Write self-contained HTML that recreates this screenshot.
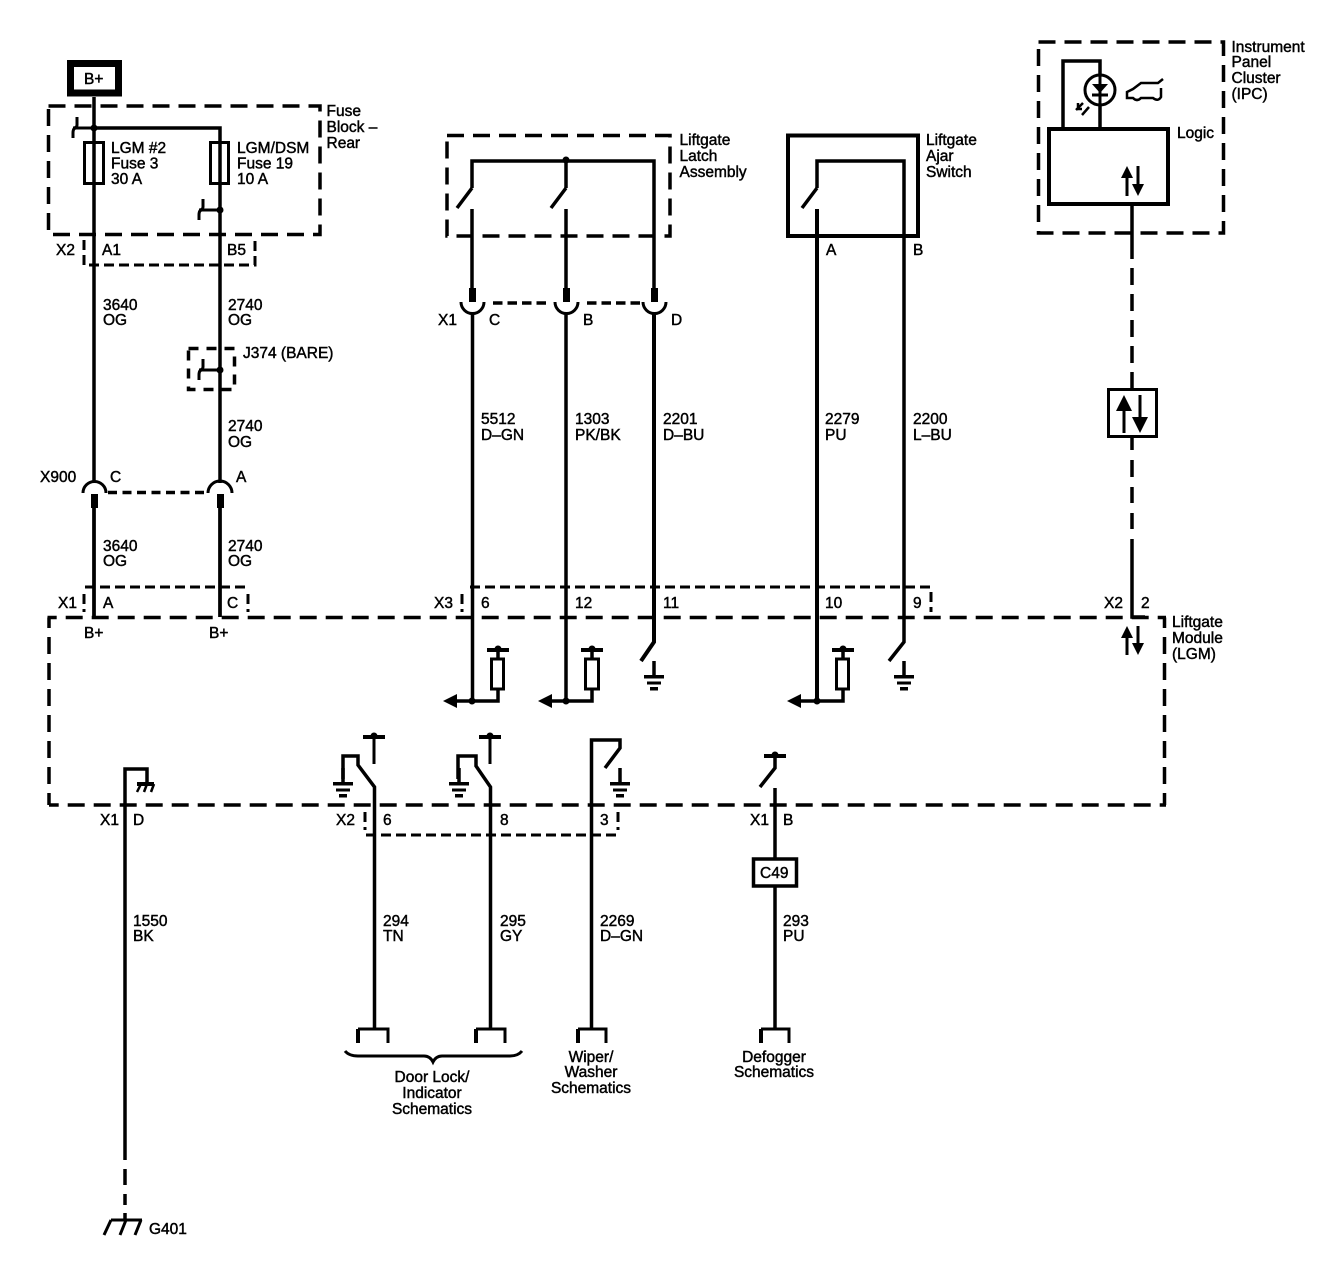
<!DOCTYPE html>
<html><head><meta charset="utf-8"><style>
html,body{margin:0;padding:0;background:#fff}
svg{display:block}
text{font-family:"Liberation Sans",sans-serif;font-size:15.5px;fill:#000;stroke:#000;stroke-width:.45}
.w{fill:none;stroke:#000;stroke-width:3.5}
.t{fill:none;stroke:#000;stroke-width:3}
.b{fill:none;stroke:#000;stroke-width:4}
.d{fill:none;stroke:#000;stroke-width:3.5;stroke-dasharray:17 9}
.c{fill:none;stroke:#000;stroke-width:3;stroke-dasharray:10 5}
.s{fill:#000;stroke:none}
.m{text-anchor:middle}
</style></head><body>
<svg width="1342" height="1280" viewBox="0 0 1342 1280" xmlns="http://www.w3.org/2000/svg">
<defs>
<g id="gnd"><path class="w" d="M0,-19V-4"/><path class="s" d="M-10,-5H10V-1.500H-10ZM-7,1.500H7V4.500H-7ZM-4,7H4V10.500H-4Z"/></g>
<g id="pull"><path class="b" d="M-11,0H11"/><circle class="s" cx="0" cy="-1" r="3.5"/></g>
</defs>

<!-- B+ -->
<rect x="70.500" y="63.500" width="48" height="29.500" fill="none" stroke="#000" stroke-width="7"/>
<text x="84" y="84">B+</text>

<!-- Fuse block -->
<rect class="d" x="48.5" y="106" width="271.5" height="128.5"/>
<path class="w" d="M94,97V617M94,128H220V617"/>
<circle class="s" cx="94" cy="128" r="3.5"/><circle class="s" cx="220" cy="210" r="3.5"/>
<path class="t" d="M94,128H76Q73,128 73,133V138M77,117V125Q77,128 73,128"/>
<path class="t" d="M220,210H202Q199,210 199,215V220M203,199V207Q203,210 199,210"/>
<rect class="t" x="84.5" y="142.5" width="19" height="41"/>
<rect class="t" x="210.5" y="142.5" width="18" height="41"/>
<text x="111" y="153">LGM #2</text><text x="111" y="168.500">Fuse 3</text><text x="111" y="184">30 A</text>
<text x="237" y="153">LGM/DSM</text><text x="237" y="168.500">Fuse 19</text><text x="237" y="184">10 A</text>
<text x="326.500" y="116">Fuse</text><text x="326.500" y="132">Block –</text><text x="326.500" y="148">Rear</text>

<!-- X2 top connector -->
<path class="c" d="M84,240V265H255V240"/>
<text x="56" y="255">X2</text><text x="102" y="255">A1</text><text x="227" y="255">B5</text>
<text x="103" y="310">3640</text><text x="103" y="325">OG</text>
<text x="228" y="310">2740</text><text x="228" y="325">OG</text>

<!-- J374 -->
<rect fill="none" stroke="#000" stroke-width="3.5" stroke-dasharray="10 8" x="188.500" y="348.500" width="46" height="41"/>
<circle class="s" cx="220" cy="370" r="3.5"/>
<path class="t" d="M220,370H202Q199,370 199,375V380M203,359V367Q203,370 199,370"/>
<text x="243" y="358">J374 (BARE)</text>
<text x="228" y="431">2740</text><text x="228" y="447">OG</text>

<!-- X900 -->
<rect x="88" y="470" width="12" height="38" fill="#fff"/><rect x="214" y="470" width="12" height="38" fill="#fff"/>
<path class="w" d="M94,470V483M220,470V483M94,508V617M220,508V617"/>
<path class="t" d="M83,493A11.500,11.500 0 0 1 106,493M208,493A11.500,11.500 0 0 1 232,493"/>
<rect class="s" x="91" y="494" width="7" height="14"/><rect class="s" x="217" y="494" width="7" height="14"/>
<path class="d" d="M108,492.500H207" style="stroke-dasharray:9 5.500"/>
<text x="40" y="482">X900</text><text x="110" y="482">C</text><text x="236" y="482">A</text>
<text x="103" y="551">3640</text><text x="103" y="566">OG</text>
<text x="228" y="551">2740</text><text x="228" y="566">OG</text>

<!-- X1 -->
<path class="c" d="M85,587H248M84,594V612M248,594V612"/>
<text x="58" y="608">X1</text><text x="103" y="608">A</text><text x="227" y="608">C</text>
<text x="84" y="638">B+</text><text x="209" y="638">B+</text>

<!-- LGM box -->
<path class="d" d="M47.500,617.500H1166" style="stroke-dashoffset:7.800"/>
<path class="d" d="M49,617.500V805" style="stroke-dashoffset:6.500"/>
<path class="d" d="M1164.500,617.500V805" style="stroke-dashoffset:6.500"/>
<path class="d" d="M49,805H1166" style="stroke-dashoffset:7.300"/>
<text x="1172" y="627">Liftgate</text><text x="1172" y="643">Module</text><text x="1172" y="659">(LGM)</text>

<!-- Latch -->
<rect class="d" x="447" y="135.500" width="223" height="100.500"/>
<path class="w" d="M472,188V161H654V302"/>
<path class="w" d="M566,161V188M472,209V288M566,209V288"/>
<path class="w" d="M472,188L457,208M566,188L551,208"/>
<circle class="s" cx="566" cy="160" r="3.500"/>
<rect class="s" x="469" y="288" width="7" height="14"/><rect class="s" x="563" y="288" width="7" height="14"/><rect class="s" x="651" y="288" width="7" height="14"/>
<path class="t" d="M461,302A11.500,11.500 0 0 0 484,302M555,302A11.500,11.500 0 0 0 578,302M643,302A11.500,11.500 0 0 0 666,302"/>
<path class="d" d="M493,303H548" style="stroke-dasharray:9.500 5"/>
<path class="d" d="M587,303H644" style="stroke-dasharray:9.500 5"/>
<path class="w" d="M472.500,313V700"/><path class="w" d="M566,313V700"/><path class="b" d="M654,313V642L641,661"/>
<text x="438" y="325">X1</text><text x="489" y="325">C</text><text x="583" y="325">B</text><text x="671" y="325">D</text>
<text x="679.500" y="145">Liftgate</text><text x="679.500" y="161">Latch</text><text x="679.500" y="177">Assembly</text>

<!-- Ajar -->
<rect fill="none" stroke="#000" stroke-width="4" x="788" y="135.500" width="130" height="100.500"/>
<path class="w" d="M817,188V161H904V642L889,661"/>
<path class="w" d="M817,188L802,208"/>
<path class="b" d="M817,209V700"/>
<text x="926" y="145">Liftgate</text><text x="926" y="161">Ajar</text><text x="926" y="177">Switch</text>
<text x="826" y="255">A</text><text x="913" y="255">B</text>

<!-- wire labels -->
<text x="481" y="424">5512</text><text x="481" y="440">D–GN</text>
<text x="575" y="424">1303</text><text x="575" y="440">PK/BK</text>
<text x="663" y="424">2201</text><text x="663" y="440">D–BU</text>
<text x="825" y="424">2279</text><text x="825" y="440">PU</text>
<text x="913" y="424">2200</text><text x="913" y="440">L–BU</text>

<!-- X3 -->
<path class="c" d="M470,587H932M462,594V612M931,592V612"/>
<text x="434" y="608">X3</text><text x="481" y="608">6</text><text x="575" y="608">12</text><text x="663" y="608">11</text><text x="825" y="608">10</text><text x="913" y="608">9</text>

<!-- pull-ups -->
<path class="w" d="M457,701H498V689M498,658V650"/><rect class="t" x="491.500" y="659" width="12" height="30"/>
<use href="#pull" x="498" y="650"/><path class="s" d="M443,701L457,694V708Z"/><circle class="s" cx="472" cy="701" r="3.500"/>
<path class="w" d="M551,701H592V689M592,658V650"/><rect class="t" x="585.500" y="659" width="13" height="30"/>
<use href="#pull" x="592" y="650"/><path class="s" d="M538,701L552,694V708Z"/><circle class="s" cx="566" cy="701" r="3.500"/>
<path class="w" d="M800,701H843V689M843,658V650"/><rect class="t" x="836.500" y="659" width="12" height="30"/>
<use href="#pull" x="843" y="650"/><path class="s" d="M787,701L801,694V708Z"/><circle class="s" cx="817" cy="701" r="3.500"/>
<use href="#gnd" x="654" y="680"/><use href="#gnd" x="904" y="680"/>

<!-- IPC -->
<rect class="d" x="1038.500" y="42" width="185" height="191"/>
<rect class="b" x="1049" y="129" width="119" height="75"/>
<path class="w" d="M1063,129V61H1100V129"/>
<circle cx="1100" cy="90" r="15" fill="#fff" stroke="#000" stroke-width="3"/>
<path class="t" d="M1100,75V105M1092,95H1108"/><path class="s" d="M1092,84H1108L1100,93Z"/>
<path fill="none" stroke="#000" stroke-width="2.500" d="M1076,110L1083,103M1082,115L1089,107M1078,103V109H1082"/>
<path fill="none" stroke="#000" stroke-width="2.500" d="M1163,79L1158,83H1141L1133,89L1127,92V98H1133Q1137,102 1141,98H1153Q1158,102 1161,97V88"/>
<text x="1177" y="138">Logic</text>
<text x="1231.500" y="52">Instrument</text><text x="1231.500" y="67">Panel</text><text x="1231.500" y="83">Cluster</text><text x="1231.500" y="99">(IPC)</text>
<path class="t" d="M1127,172V196M1138,166V190"/><path class="s" d="M1127,166L1121,178H1133ZM1138,196L1132,184H1144Z"/>

<!-- data line -->
<path class="w" d="M1132,204V242"/>
<path class="d" d="M1132,242V388"/>
<path class="w" d="M1132,438V450M1132,460V477M1132,487V503M1132,513V529"/>
<path class="w" d="M1132,539V617H1145"/>
<rect class="t" x="1108.500" y="389.500" width="48" height="47"/>
<path class="t" d="M1124,405V433M1140,395V420"/><path class="s" d="M1124,395L1116,411H1132ZM1140,433L1132,417H1148Z"/>
<path class="t" d="M1127,632V655M1138,626V650"/><path class="s" d="M1127,626L1121,638H1133ZM1138,655L1132,643H1144Z"/>
<text x="1104" y="608">X2</text><text x="1141" y="608">2</text>

<!-- G401 wire -->
<path class="w" d="M125,1160V769H147V782"/>
<path class="w" d="M125,1169V1185M125,1194V1205M125,1213V1219"/>
<path class="b" d="M137,784H154"/><path fill="none" stroke="#000" stroke-width="2.500" d="M141,784L137,792M147,784L144,792M154,784L151,792"/>
<path class="t" d="M111,1220H142M111,1220L104,1235M126,1220L120,1235M141,1220L135,1235"/>
<text x="100" y="825">X1</text><text x="133" y="825">D</text>
<text x="133" y="926">1550</text><text x="133" y="941">BK</text>
<text x="149" y="1234">G401</text>

<!-- X2 lower switches -->
<path class="w" d="M374.500,1028V787L358,765V756H343V779"/>
<use href="#pull" x="374" y="737"/><path class="t" d="M374,737V764"/>
<use href="#gnd" x="343" y="787"/>
<path class="w" d="M490.500,1028V787L476,766V756H458V779"/>
<use href="#pull" x="490" y="737"/><path class="t" d="M490,737V764"/>
<use href="#gnd" x="459" y="787"/>
<path class="w" d="M591.500,1028V740H620V748L605,768"/>
<use href="#gnd" x="620" y="787"/>
<use href="#pull" x="775" y="756"/><path class="w" d="M775,756V768L760,787"/>
<path class="w" d="M775,788V1028"/>
<rect fill="#fff" stroke="#000" stroke-width="3.500" x="753.500" y="859" width="43" height="27"/>
<text x="760" y="878">C49</text>
<path class="c" d="M366,835H617M365,812V830M618,812V830"/>
<text x="336" y="825">X2</text><text x="383" y="825">6</text><text x="500" y="825">8</text><text x="600" y="825">3</text>
<text x="750" y="825">X1</text><text x="783" y="825">B</text>
<text x="383" y="926">294</text><text x="383" y="941">TN</text>
<text x="500" y="926">295</text><text x="500" y="941">GY</text>
<text x="600" y="926">2269</text><text x="600" y="941">D–GN</text>
<text x="783" y="926">293</text><text x="783" y="941">PU</text>

<!-- terminals -->
<path class="t" d="M388,1043V1029H358"/><path class="b" d="M358,1043V1029"/>
<path class="t" d="M505,1043V1029H476"/><path class="b" d="M476,1043V1029"/>
<path class="t" d="M606,1043V1029H578"/><path class="b" d="M578,1043V1029"/>
<path class="t" d="M789,1043V1029H761"/><path class="b" d="M761,1043V1029"/>

<!-- brace -->
<path fill="none" stroke="#000" stroke-width="3" d="M345,1051Q349,1056 358,1056H424Q430,1056 433,1062Q436,1056 442,1056H510Q518,1056 522,1051"/>
<text class="m" x="432" y="1082">Door Lock/</text><text class="m" x="432" y="1098">Indicator</text><text class="m" x="432" y="1114">Schematics</text>
<text class="m" x="591" y="1062">Wiper/</text><text class="m" x="591" y="1077">Washer</text><text class="m" x="591" y="1093">Schematics</text>
<text class="m" x="774" y="1062">Defogger</text><text class="m" x="774" y="1077">Schematics</text>
</svg>
</body></html>
